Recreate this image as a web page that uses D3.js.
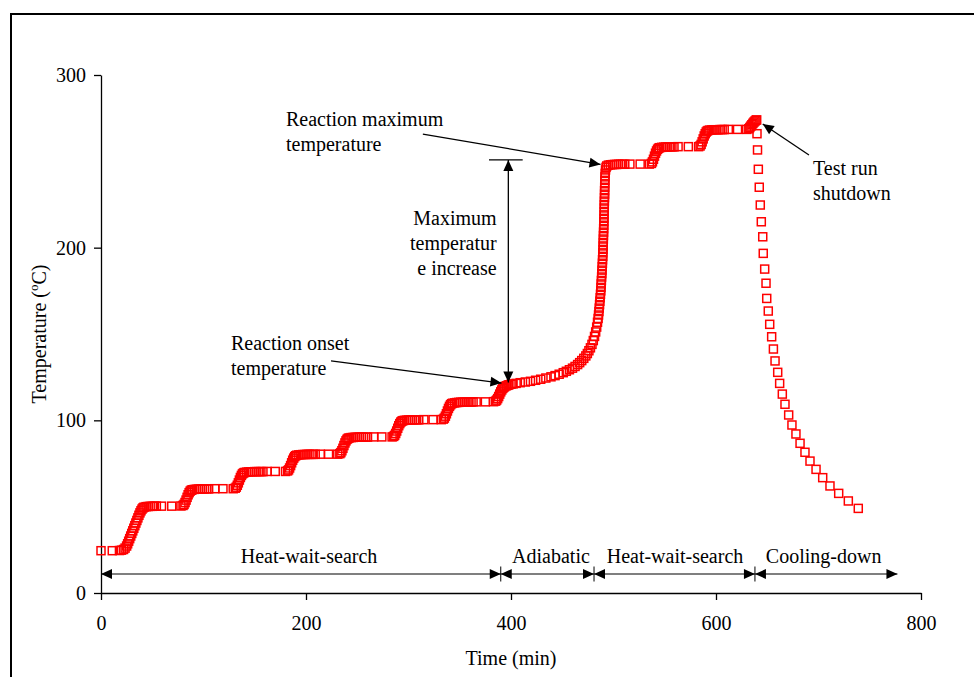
<!DOCTYPE html>
<html>
<head>
<meta charset="utf-8">
<script src="https://cdn.jsdelivr.net/npm/d3@7"></script>
<style>
  body { margin: 0; background: #fff; }
  svg { display: block; }
  text { font-family: "Liberation Serif", "Times New Roman", serif; fill: #000; }
</style>
</head>
<body>
<svg id="chart" width="974" height="677"></svg>
<script>
// ARC test record: [time (min), temperature (°C)]
const heatWaitSearch1 = [
  [0,24.5],[11,24.5],[18,24.6],[20,24.8],[22,25.2],
  [23.5,26],[25,27.2],[26,28.5],[27,30],[28,31.5],[29,33],[30,34.5],[31,36],[32,37.5],[33,39],[34,40.5],[35,42],[36,43.5],[37,45],[38,46.4],[39,47.6],[40,48.6],[41,49.3],[42,49.7],[44,50],[46,50.1],[48,50.2],[50,50.2],[52,50.3],[54,50.3],
  [59,50.3],[69,50.3],[78,50.4],
  [80,50.7],[81,51.3],[82,52.4],[83,53.8],[84,55.4],[85,56.9],[86,58.1],[87,59],[88,59.5],[89,59.8],[91,60],[93,60.1],[95,60.2],[97,60.2],[99,60.3],[101,60.3],[103,60.3],[105,60.3],
  [111,60.4],[119,60.4],[129,60.4],
  [131,60.7],[132,61.3],[133,62.4],[134,63.8],[135,65.4],[136,66.9],[137,68.1],[138,69],[139,69.5],[140,69.8],[142,70],[144,70.1],[146,70.2],[148,70.2],[150,70.3],[152,70.3],[154,70.3],[156,70.3],[158,70.3],
  [162,70.4],[170,70.4],[180,70.4],
  [182,70.7],[183,71.3],[184,72.4],[185,73.8],[186,75.4],[187,76.9],[188,78.1],[189,79],[190,79.5],[191,79.8],[193,80],[195,80.1],[197,80.2],[199,80.2],[201,80.3],[203,80.3],[205,80.3],[207,80.3],[209,80.3],
  [214,80.4],[222,80.4],[231,80.4],
  [233,80.7],[234,81.3],[235,82.4],[236,83.8],[237,85.4],[238,86.9],[239,88.1],[240,89],[241,89.5],[242,89.8],[244,90],[246,90.1],[248,90.2],[250,90.2],[252,90.3],[254,90.3],[256,90.3],[258,90.3],[260,90.3],
  [266,90.4],[274,90.4],[284,90.4],
  [285.5,90.7],[286.5,91.3],[287.5,92.4],[288.5,93.8],[289.5,95.4],[290.5,96.9],[291.5,98.1],[292.5,99],[293.5,99.5],[294.5,99.8],[296,100],[298,100.1],[300,100.2],[302,100.2],[304,100.3],[306,100.3],[308,100.3],[310,100.3],
  [315,100.4],[324,100.4],[332,100.4],
  [334,100.7],[335,101.3],[336,102.4],[337,103.8],[338,105.4],[339,106.9],[340,108.1],[341,109],[342,109.6],[343,109.9],[345,110.1],[347,110.3],[349,110.4],[351,110.5],[353,110.5],[355,110.6],[357,110.6],[359,110.6],[361,110.6],[363,110.7],
  [366,110.7],[375,110.7],[383,110.8],
  [385,111.1],[386,111.7],[387,112.6],[388,113.8],[389,115.2],[390,116.5],[391,117.6],[392,118.5],[393,119.1],[394,119.6],[395.5,120],[397,120.3]
];

const adiabatic = [
  [398,120.6],[400,120.9],[402,121.1],[405,121.4],[409,121.8],[414,122.2],[419,122.6],[424,123.2],[429,123.8],[434,124.5],
  [439,125.2],[443,125.9],[447,126.7],[451,127.6],[454,128.4],[457,129.3],[460,130.2],[462.5,131.2],[465,132.3],[467,133.4],
  [469,134.6],[471,135.9],[473,137.3],[474.5,138.7],[476,140.3],[477.5,142],[479,144],[480.3,146.2],[481.5,148.6],[482.6,151.2],
  [483.6,154],[484.4,156.8],[485,159],
  [485.4,161],[485.8,163],[486.1,165],[486.4,167],[486.7,169],[487,171],[487.3,173],[487.6,175],[487.8,177],[488,179],
  [488.2,181],[488.4,183],[488.6,185],[488.8,187],[489,189],[489.2,191],[489.3,193],[489.5,195],[489.6,197],[489.8,199],
  [489.9,201],[490,203],[490.1,205],[490.2,207],[490.3,209],[490.4,211],[490.5,213],[490.6,215],[490.7,217],[490.8,219],
  [490.9,221],[491,223],[491,225],[491.1,227],[491.2,229],[491.3,231],[491.3,233],[491.4,235],[491.5,237],[491.6,239],
  [491.7,241],[491.9,243],[492.2,245],[492.7,246.5],[493.4,247.3]
];

const heatWaitSearch2 = [
  [495,247.8],[497,248],[499,248.1],[501,248.2],[503,248.2],[505,248.3],[507,248.3],[509,248.3],[511,248.3],
  [516,248.4],[526,248.4],[535,248.4],
  [537,248.8],[538,249.7],[539,251.2],[540,253],[541,254.7],[542,256],[543,257],[544,257.6],[545,257.9],[547,258.1],[549,258.2],[551,258.3],[553,258.3],[555,258.4],[557,258.4],[559,258.4],
  [563,258.5],[573,258.5],[583,258.5],
  [584.5,258.9],[585.5,259.8],[586.5,261.3],[587.5,263],[588.5,264.7],[589.5,266],[590.5,267],[591.5,267.6],[592.5,267.9],[594,268.1],[596,268.2],[598,268.3],[600,268.3],[602,268.3],[604,268.4],[606,268.4],[608,268.4],
  [612,268.5],[621,268.5],[630,268.5],
  [632,268.9],[633,269.6],[634,270.4],[635,271.2],[636,272],[637,272.7],[638,273.3],[639,273.8],[639.7,274]
];

const coolingDown = [
  [640,266],[640.5,256.6],[641.3,245.4],[642.2,235],[643.2,224.7],[644.2,215],[645.6,206.3],[646.1,196.7],[647.5,187.6],
  [648.8,179.4],[649.5,170.6],[651,163.3],[652.4,155.6],[654.3,148.4],[656,141.3],[657.6,134.4],[660.2,127.8],[662.1,121.4],
  [664.7,115.2],[667.3,109.3],[670.9,103.1],[674.1,97.3],[678,92.1],[682,86.7],[686.8,81.5],[691.7,76.4],[697.6,71.6],
  [704.1,66.8],[711.2,62],[719.7,57.7],[729.1,53.3],[738.8,49]
];

const xTicks = [0, 200, 400, 600, 800];
const yTicks = [0, 100, 200, 300];

// Test stages along the time axis
const stageNames = ["Heat-wait-search", "Adiabatic", "Heat-wait-search", "Cooling-down"];
const stageBounds = [0, 390, 481, 638, 777];
const stageLabelTimes = [203, 439, 560, 705];
const stageArrowTemp = 11;

// Callouts: text anchor, leader start and arrow tip, all in data units
const callouts = [
  { lines: ["Reaction maximum", "temperature"], at: [180.5, 270.5], from: [314, 265.8], to: [487.3, 248.2] },
  { lines: ["Reaction onset", "temperature"], at: [126.8, 140.7], from: [224.4, 134.4], to: [390.7, 121.6] },
  { lines: ["Test run", "shutdown"], at: [694.6, 242], from: [690.7, 253.7], to: [645.6, 271.6] }
];
const riseSpan = { time: 397.4, low: 121.9, high: 250.8, capFrom: 378.5, capTo: 411.4 };
const riseLabel = { lines: ["Maximum", "temperatur", "e increase"], at: [386, 213.1] };

const svg = d3.select("#chart");
const x = d3.scaleLinear().domain([0, 800]).range([101, 921]);
const y = d3.scaleLinear().domain([0, 300]).range([593, 75]);
const lineGap = 25;

// outer frame
svg.append("rect")
  .attr("x", 11).attr("y", 14).attr("width", 1000).attr("height", 700)
  .attr("fill", "none").attr("stroke", "#000").attr("stroke-width", 2);

const defs = svg.append("defs");
defs.append("marker")
  .attr("id", "head")
  .attr("viewBox", "-12 -6 13 12")
  .attr("refX", 0).attr("refY", 0)
  .attr("markerWidth", 13).attr("markerHeight", 12)
  .attr("markerUnits", "userSpaceOnUse")
  .attr("orient", "auto-start-reverse")
  .append("path")
  .attr("d", "M0,0L-11,-5L-11,5Z")
  .attr("fill", "#000");

// axes
const gx = svg.append("g").attr("transform", `translate(0,${y(0)})`)
  .call(d3.axisBottom(x).tickValues(xTicks).tickSize(7).tickSizeOuter(0).tickPadding(16));
const gy = svg.append("g").attr("transform", `translate(${x(0)},0)`)
  .call(d3.axisLeft(y).tickValues(yTicks).tickSize(7).tickSizeOuter(0).tickPadding(8));
[gx, gy].forEach(g => {
  g.attr("font-size", null).attr("font-family", null);
  g.selectAll("text").attr("font-size", 20).attr("fill", "#000");
  g.selectAll("line").attr("stroke", "#000").attr("stroke-width", 1.3);
  g.select(".domain").attr("stroke", "#000").attr("stroke-width", 1.3);
});

// axis titles
svg.append("text")
  .attr("x", (x(0) + x(800)) / 2).attr("y", 665)
  .attr("text-anchor", "middle").attr("font-size", 20)
  .text("Time (min)");
const yTitle = svg.append("text")
  .attr("transform", `translate(46,${(y(0) + y(300)) / 2}) rotate(-90)`)
  .attr("text-anchor", "middle").attr("font-size", 20);
yTitle.append("tspan").text("Temperature (");
yTitle.append("tspan").attr("font-size", 13).attr("dy", -8).text("o");
yTitle.append("tspan").attr("dy", 8).text("C)");

// measured points
const allPoints = [heatWaitSearch1, adiabatic, heatWaitSearch2, coolingDown].flat();
const half = 4;
svg.append("g")
  .selectAll("rect")
  .data(allPoints)
  .join("rect")
  .attr("x", d => x(d[0]) - half)
  .attr("y", d => y(d[1]) - half)
  .attr("width", half * 2).attr("height", half * 2)
  .attr("fill", "none")
  .attr("stroke", "#ff0000")
  .attr("stroke-width", 1.5);

// stage arrows
const stageG = svg.append("g");
stageNames.forEach((name, i) => {
  stageG.append("line")
    .attr("x1", x(stageBounds[i])).attr("x2", x(stageBounds[i + 1]))
    .attr("y1", y(stageArrowTemp)).attr("y2", y(stageArrowTemp))
    .attr("stroke", "#000").attr("stroke-width", 1.2)
    .attr("marker-start", "url(#head)").attr("marker-end", "url(#head)");
  stageG.append("text")
    .attr("x", x(stageLabelTimes[i])).attr("y", y(stageArrowTemp) - 11)
    .attr("text-anchor", "middle").attr("font-size", 20)
    .text(name);
});
stageBounds.slice(1, -1).forEach(b => {
  stageG.append("line")
    .attr("x1", x(b)).attr("x2", x(b))
    .attr("y1", y(stageArrowTemp) - 7.5).attr("y2", y(stageArrowTemp) + 7.5)
    .attr("stroke", "#000").attr("stroke-width", 1);
});

// callouts
const noteG = svg.append("g");
callouts.forEach(c => {
  noteG.append("line")
    .attr("x1", x(c.from[0])).attr("y1", y(c.from[1]))
    .attr("x2", x(c.to[0])).attr("y2", y(c.to[1]))
    .attr("stroke", "#000").attr("stroke-width", 1.3)
    .attr("marker-end", "url(#head)");
  c.lines.forEach((ln, k) => {
    noteG.append("text")
      .attr("x", x(c.at[0])).attr("y", y(c.at[1]) + k * lineGap)
      .attr("font-size", 20).text(ln);
  });
});

// maximum temperature increase bracket
noteG.append("line")
  .attr("x1", x(riseSpan.capFrom)).attr("x2", x(riseSpan.capTo))
  .attr("y1", y(riseSpan.high)).attr("y2", y(riseSpan.high))
  .attr("stroke", "#000").attr("stroke-width", 1.2);
noteG.append("line")
  .attr("x1", x(riseSpan.time)).attr("x2", x(riseSpan.time))
  .attr("y1", y(riseSpan.high)).attr("y2", y(riseSpan.low))
  .attr("stroke", "#000").attr("stroke-width", 1.3)
  .attr("marker-start", "url(#head)").attr("marker-end", "url(#head)");
riseLabel.lines.forEach((ln, k) => {
  noteG.append("text")
    .attr("x", x(riseLabel.at[0])).attr("y", y(riseLabel.at[1]) + k * lineGap)
    .attr("text-anchor", "end").attr("font-size", 20).text(ln);
});
</script>
</body>
</html>
